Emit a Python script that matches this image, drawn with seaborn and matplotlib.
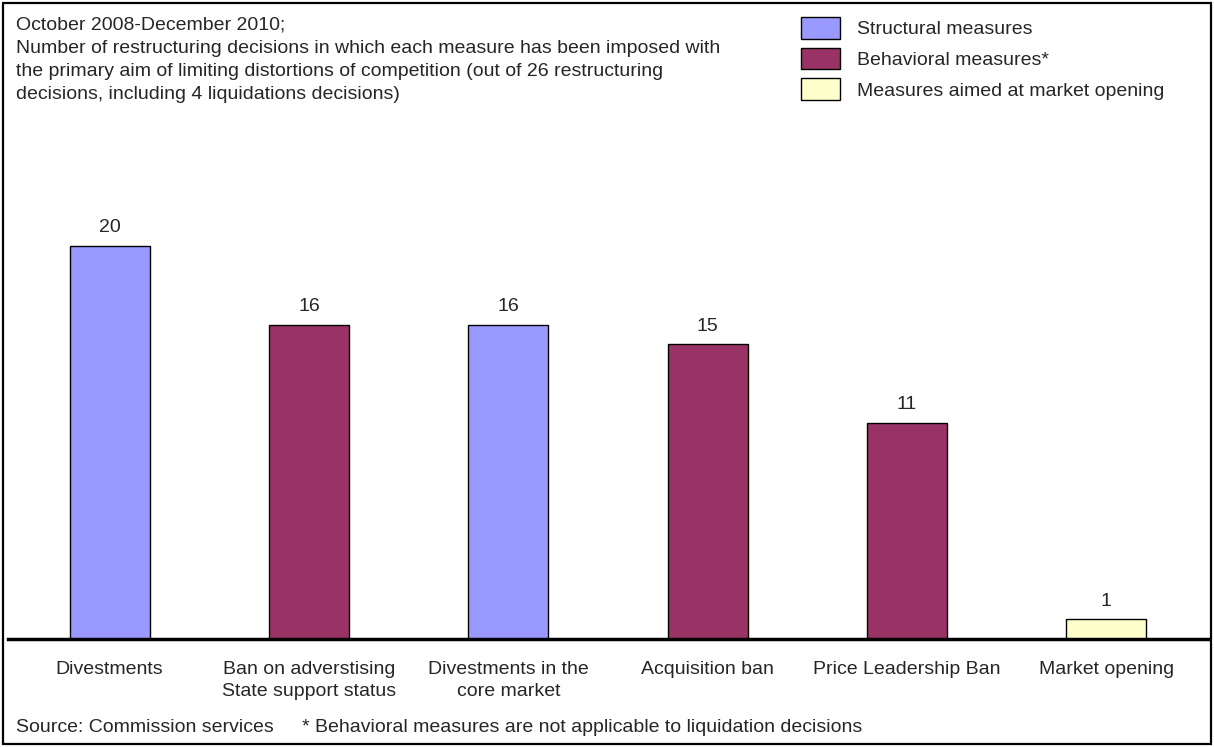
import seaborn as sns
import matplotlib.pyplot as plt
import pandas as pd
from matplotlib.patches import Patch, Rectangle

# Data
measures = ['Divestments', 'Ban on adverstising\nState support status',
            'Divestments in the\ncore market', 'Acquisition ban',
            'Price Leadership Ban', 'Market opening']
counts = [20, 16, 16, 15, 11, 1]
kinds = ['Structural measures', 'Behavioral measures*', 'Structural measures',
         'Behavioral measures*', 'Behavioral measures*', 'Measures aimed at market opening']
kind_order = ['Structural measures', 'Behavioral measures*', 'Measures aimed at market opening']
kind_colors = ['#9999FF', '#993366', '#FFFFCC']

df = pd.DataFrame({'Measure': measures, 'Count': counts, 'Kind': kinds})

sns.set_style("white")
plt.rcParams['font.family'] = ['Liberation Sans', 'DejaVu Sans']
FS = 14

W, H = 1214, 747
fig = plt.figure(figsize=(W / 100, H / 100), dpi=100)
ax = fig.add_axes([8 / W, 108 / H, 1200 / W, 491 / H])

sns.barplot(data=df, x='Measure', y='Count', hue='Kind', order=measures,
            hue_order=kind_order, palette=kind_colors, dodge=False, width=0.4,
            saturation=1, edgecolor='black', linewidth=1, legend=False, ax=ax)

for c in ax.containers:
    ax.bar_label(c, padding=7, fontsize=FS)

ax.set_xlim(-0.51, 5.51)
ax.set_ylim(0, 25)
ax.set_xlabel('')
ax.set_ylabel('')
ax.set_yticks([])
ax.tick_params(axis='x', length=0, pad=16, labelsize=FS)
for lbl in ax.get_xticklabels():
    lbl.set_linespacing(1.39)
for s in ['top', 'left', 'right']:
    ax.spines[s].set_visible(False)
ax.spines['bottom'].set_linewidth(2.5)
ax.spines['bottom'].set_color('black')

fig.text(16 / W, 1 - 17 / H,
         'October 2008-December 2010;\n'
         'Number of restructuring decisions in which each measure has been imposed with\n'
         'the primary aim of limiting distortions of competition (out of 26 restructuring\n'
         'decisions, including 4 liquidations decisions)',
         ha='left', va='top', fontsize=FS, linespacing=1.47)

handles = [Patch(facecolor=c, edgecolor='black', linewidth=1) for c in kind_colors]
fig.legend(handles, kind_order, loc='upper left', bbox_to_anchor=(801 / W, 1 - 17 / H),
           frameon=False, fontsize=FS, borderpad=0, borderaxespad=0,
           handlelength=2.0, handleheight=1.34, labelspacing=0.46, handletextpad=0.87)

fig.text(16 / W, 1 - 728 / H, 'Source: Commission services', ha='left', va='center', fontsize=FS)
fig.text(302 / W, 1 - 728 / H, '* Behavioral measures are not applicable to liquidation decisions',
         ha='left', va='center', fontsize=FS)

fig.patches.append(Rectangle((3 / W, 3 / H), 1 - 6 / W, 1 - 6 / H, transform=fig.transFigure,
                             fill=False, edgecolor='black', linewidth=1.6))

plt.savefig('out.png', dpi=100)
plt.close()
